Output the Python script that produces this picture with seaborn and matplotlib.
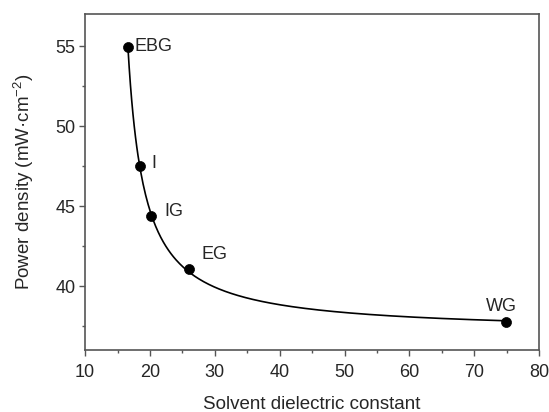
import matplotlib
matplotlib.use('Agg')
import matplotlib.pyplot as plt
from matplotlib.ticker import MultipleLocator
import numpy as np
import pandas as pd
import seaborn as sns

# values
solvents = ['EBG', 'I', 'IG', 'EG', 'WG']
dielectric = [16.6, 18.45, 20.1, 26.0, 74.9]
power = [54.95, 47.5, 44.4, 41.1, 37.75]

sns.set_style('ticks')
plt.rcParams['font.family'] = ['Liberation Sans', 'DejaVu Sans']
plt.rcParams['mathtext.fontset'] = 'custom'
plt.rcParams['mathtext.rm'] = 'Liberation Sans'
plt.rcParams['mathtext.it'] = 'Liberation Sans'

df = pd.DataFrame({'solvent': solvents, 'eps': dielectric, 'power': power})

# hyperbolic fit y = a + b / (x - c), c picked by grid search
xs = df['eps'].values
ys = df['power'].values
best = None
for c in np.linspace(5, xs.min() - 0.05, 600):
    A = np.column_stack([np.ones_like(xs), 1.0 / (xs - c)])
    coef, *_ = np.linalg.lstsq(A, ys, rcond=None)
    err = np.sum((A @ coef - ys) ** 2)
    if best is None or err < best[0]:
        best = (err, c, coef)
_, c_fit, (a_fit, b_fit) = best
xf = np.linspace(xs.min(), xs.max(), 300)
fit = pd.DataFrame({'eps': xf, 'power': a_fit + b_fit / (xf - c_fit)})

fig = plt.figure(figsize=(5.49, 4.12), dpi=100)
ax = fig.add_axes([0.155, 0.150, 0.827, 0.816])

sns.lineplot(data=fit, x='eps', y='power', color='black', linewidth=1.2, ax=ax)
sns.scatterplot(data=df, x='eps', y='power', color='black', s=52,
                edgecolor='black', linewidth=0.5, zorder=3, ax=ax)

# label offsets in points
offsets = {'EBG': (5, 0, 'left', 'center'),
           'I': (8, 2, 'left', 'center'),
           'IG': (10, 3, 'left', 'center'),
           'EG': (9, 4, 'left', 'bottom'),
           'WG': (-3, 5, 'center', 'bottom')}
for name, x, y in zip(solvents, dielectric, power):
    dx, dy, ha, va = offsets[name]
    ax.annotate(name, (x, y), xytext=(dx, dy), textcoords='offset points',
                ha=ha, va=va, fontsize=13)

ax.set_xlim(10, 80)
ax.set_ylim(36, 57)
ax.xaxis.set_major_locator(MultipleLocator(10))
ax.xaxis.set_minor_locator(MultipleLocator(5))
ax.yaxis.set_major_locator(MultipleLocator(5))
ax.yaxis.set_minor_locator(MultipleLocator(2.5))
ax.tick_params(which='major', length=4, width=1, labelsize=13, color='#555555', pad=3)
ax.tick_params(axis='x', which='major', pad=6)
ax.tick_params(which='minor', length=2.5, width=1, color='#555555')
for sp in ax.spines.values():
    sp.set_color('#555555')
    sp.set_linewidth(1.2)

ax.set_xlabel('Solvent dielectric constant', fontsize=13.5, labelpad=11)
ax.set_ylabel('Power density (mW·cm$^{-2}$)', fontsize=13.5, labelpad=14)

fig.savefig('out.png', dpi=100)
